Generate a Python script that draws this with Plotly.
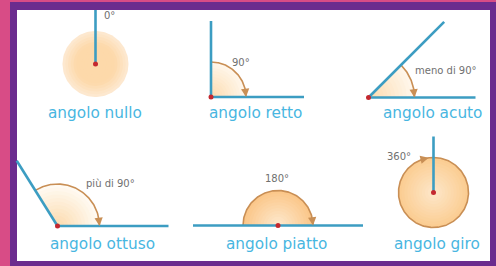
import numpy as np
import plotly.graph_objects as go

# ---------------- data ----------------
titles = ["angolo nullo", "angolo retto", "angolo acuto",
          "angolo ottuso", "angolo piatto", "angolo giro"]
angles_deg = [0, 90, 45, 122, 180, 360]
angle_labels = ["0°", "90°", "meno di 90°", "più di 90°", "180°", "360°"]

# ---------------- layout (positions / sizes) ----------------
W, H = 496, 266
vertices = [(95.5, 64), (211, 97), (368.5, 97.5), (57.5, 226), (278, 225.5), (433.5, 192.5)]
radii = [33, 35, 46, 42, 35, 35]
base_len = [0, 93, 107, 111, 85, 0]
second_len = [54, 76, 107, 77, 85, 56]
title_pos = [(95, 113), (255, 113), (432, 113), (102, 243.5), (276, 243.5), (437, 243.5)]
small_pos = [(109, 15), (241, 62), (446, 70.5), (110, 183), (277, 178), (399, 156)]
fill_center = ["#fdd9aa", "#fcdcb0", "#fcdcb0", "#fcdcb0", "#fde8cc", "#fde6c8"]
fill_edge = ["#fde8cf", "#fff6ea", "#fff6ea", "#fffaf2", "#fbc78a", "#fbcd92"]

RAY = "#3c9dc2"
ARC = "#c98f55"
DOT = "#c4282f"
TITLE = "#48b6e1"
FONT = "DejaVu Sans, sans-serif"


def pt(cx, cy, r, th):
    t = np.radians(th)
    return cx + r * np.cos(t), cy - r * np.sin(t)


def hexrgb(h):
    h = h.lstrip("#")
    return np.array([int(h[i:i + 2], 16) for i in (0, 2, 4)], float)


def mix(c1, c2, f):
    c = hexrgb(c1) * (1 - f) + hexrgb(c2) * f
    return "rgb(%d,%d,%d)" % tuple(np.round(c))


fig = go.Figure()

# gradient fills
for i, a in enumerate(angles_deg):
    cx, cy = vertices[i]
    r = radii[i]
    span = 360 if a in (0, 360) else a
    n = 12
    for k in range(n):
        rr = r * (n - k) / n
        th = np.linspace(0, span, 120)
        xs, ys = pt(cx, cy, rr, th)
        if span < 360:
            xs = np.concatenate([[cx], xs, [cx]])
            ys = np.concatenate([[cy], ys, [cy]])
        f = min(1.0, k / (n - 1) * (2.5 if a == 0 else 1.0))
        col = mix(fill_edge[i], fill_center[i], f)
        fig.add_trace(go.Scatter(x=xs, y=ys, mode="lines", fill="toself",
                                 fillcolor=col, line=dict(width=0),
                                 hoverinfo="skip", showlegend=False))

# arcs with arrows
for i, a in enumerate(angles_deg):
    if a == 0:
        continue
    cx, cy = vertices[i]
    r = radii[i]
    if a == 360:
        th = np.linspace(90 + 360, 90, 300)
        end = 98
    else:
        th = np.linspace(a, 0, 120)
        end = 0
    xs, ys = pt(cx, cy, r, th)
    fig.add_trace(go.Scatter(x=xs, y=ys, mode="lines",
                             line=dict(color=ARC, width=1.6),
                             hoverinfo="skip", showlegend=False))
    tx, ty = pt(cx, cy, r, end)
    bx, by = pt(cx, cy, r, end + 12)
    fig.add_annotation(x=tx, y=ty, ax=bx, ay=by, xref="x", yref="y",
                       axref="x", ayref="y", text="", showarrow=True,
                       arrowhead=2, arrowsize=1.1, arrowwidth=1.5,
                       arrowcolor=ARC)

# rays
for i, a in enumerate(angles_deg):
    cx, cy = vertices[i]
    ray_angle = 90 if a in (0, 360) else a
    if base_len[i] > 0:
        x1, y1 = pt(cx, cy, base_len[i], 0)
        fig.add_trace(go.Scatter(x=[cx, x1], y=[cy, y1], mode="lines",
                                 line=dict(color=RAY, width=2.6),
                                 hoverinfo="skip", showlegend=False))
    x2, y2 = pt(cx, cy, second_len[i], ray_angle)
    fig.add_trace(go.Scatter(x=[cx, x2], y=[cy, y2], mode="lines",
                             line=dict(color=RAY, width=2.6),
                             hoverinfo="skip", showlegend=False))

# vertex dots
fig.add_trace(go.Scatter(x=[v[0] for v in vertices], y=[v[1] for v in vertices],
                         mode="markers", marker=dict(color=DOT, size=5),
                         hoverinfo="skip", showlegend=False))

# texts
for i in range(len(titles)):
    fig.add_annotation(x=title_pos[i][0], y=title_pos[i][1], text=titles[i],
                       showarrow=False, xref="x", yref="y",
                       font=dict(family=FONT, size=15.3, color=TITLE))
    fig.add_annotation(x=small_pos[i][0], y=small_pos[i][1], text=angle_labels[i],
                       showarrow=False, xref="x", yref="y",
                       font=dict(family=FONT, size=10, color="#707070"))

fig.update_layout(
    width=W, height=H, margin=dict(l=0, r=0, t=0, b=0),
    paper_bgcolor="#d84c86", plot_bgcolor="rgba(0,0,0,0)",
    xaxis=dict(range=[0, W], visible=False, fixedrange=True),
    yaxis=dict(range=[H, 0], visible=False, fixedrange=True),
    shapes=[
        dict(type="rect", xref="x", yref="y", x0=10, x1=W, y0=2, y1=H,
             fillcolor="#6b2c8e", line=dict(width=0), layer="below"),
        dict(type="rect", xref="x", yref="y", x0=17, x1=490, y0=10, y1=261,
             fillcolor="#ffffff", line=dict(width=0), layer="below"),
    ],
)

fig.write_html("out.html", config={"displayModeBar": False},
               post_script="document.body.style.margin='0';document.body.style.overflow='hidden';")
